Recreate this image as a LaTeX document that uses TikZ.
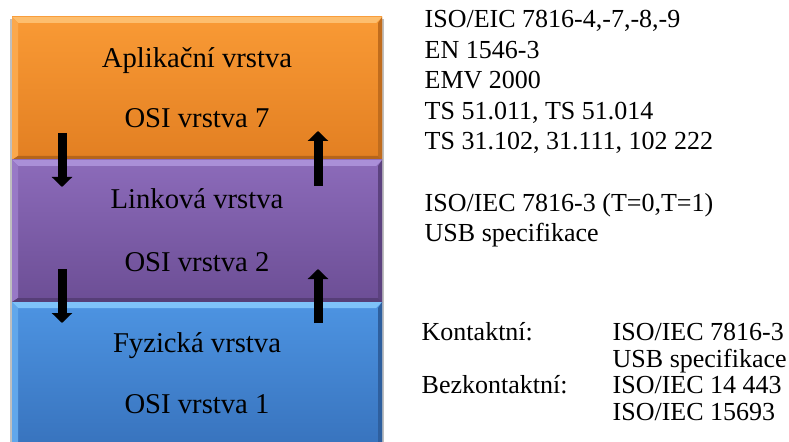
\documentclass[tikz,border=0pt]{standalone}
\usepackage{fontspec}
\setmainfont{Liberation Serif}
\usetikzlibrary{arrows.meta}
\definecolor{AppOrange}{HTML}{F99A35}
\definecolor{AppOrangeDark}{HTML}{E27F22}
\definecolor{AppOrangeLight}{HTML}{FDBE6E}
\definecolor{LinkPurple}{HTML}{8C6BBA}
\definecolor{LinkPurpleDark}{HTML}{6C4E95}
\definecolor{LinkPurpleLight}{HTML}{AA8FD8}
\definecolor{PhysBlue}{HTML}{4D94E2}
\definecolor{PhysBlueDark}{HTML}{3670BA}
\definecolor{PhysBlueLight}{HTML}{7EC2F8}

\begin{document}
\begin{tikzpicture}[x=0.75pt,y=-0.75pt,
    big/.style={font=\fontsize{21.5}{25}\selectfont, anchor=base},
    std/.style={font=\fontsize{19.5}{23}\selectfont, anchor=base west},
    flow/.style={line width=6.75pt, -{Triangle[width=15pt,length=7.5pt]}}]
    \clip (0,0) rectangle (789,442);

    % layers, with bevelled edges
    \fill[black!25] (10,19) rectangle (384,450);
    \foreach \ytop/\ybot/\col in {17/160/AppOrange, 160/302/LinkPurple, 302/460/PhysBlue} {
      \shade[top color=\col, bottom color=\col Dark] (12,\ytop) rectangle (382,\ybot);
      \fill[\col Light] (12,\ytop) -- (382,\ytop) -- (376,\ytop+6) -- (18,\ytop+6) -- cycle;
      \fill[\col Light!40!\col] (12,\ytop) -- (18,\ytop+6) -- (18,\ybot-4) -- (12,\ybot) -- cycle;
      \fill[\col Dark!85!black] (382,\ytop) -- (382,\ybot) -- (378,\ybot-4) -- (378,\ytop+6) -- cycle;
      \fill[\col Dark!80!black] (12,\ybot) -- (382,\ybot) -- (378,\ybot-4) -- (18,\ybot-4) -- cycle;
    }

    \node[big] (app) at (197,68) {Aplikační vrstva};
    \node[big] (app7) at (197,128) {OSI vrstva 7};
    \node[big] (link) at (197,209) {Linková vrstva};
    \node[big] (link2) at (197,272) {OSI vrstva 2};
    \node[big] (phys) at (197,352) {Fyzická vrstva};
    \node[big] (phys1) at (197,413) {OSI vrstva 1};

    % data going down and up the stack
    \coordinate (down1a) at (62,133);
    \coordinate (down1b) at (62,187);
    \coordinate (down2a) at (62,269);
    \coordinate (down2b) at (62,323);
    \coordinate (up1a) at (318,186);
    \coordinate (up1b) at (318,131);
    \coordinate (up2a) at (318,323);
    \coordinate (up2b) at (318,269);
    \draw[flow] (down1a) -- (down1b);
    \draw[flow] (down2a) -- (down2b);
    \draw[flow] (up1a) -- (up1b);
    \draw[flow] (up2a) -- (up2b);

    % norms for each layer
    \node[std] (iso7816) at (420,28) {ISO/EIC 7816-4,-7,-8,-9};
    \node[std] (en1546) at (420,59) {EN 1546-3};
    \node[std] (emv) at (420,89) {EMV 2000};
    \node[std] (ts51) at (420,120) {TS 51.011, TS 51.014};
    \node[std] (ts31) at (420,150) {TS 31.102, 31.111, 102 222};

    \node[std] (isot) at (420,211) {ISO/IEC 7816-3 (T=0,T=1)};
    \node[std] (usb) at (420,242) {USB specifikace};

    \node[std] (kont) at (417,340) {Kontaktní:};
    \node[std] (kontiso) at (608,340) {ISO/IEC 7816-3};
    \node[std] (kontusb) at (608,367) {USB specifikace};
    \node[std] (bezk) at (417,393) {Bezkontaktní:};
    \node[std] (bezkiso) at (608,393) {ISO/IEC 14 443};
    \node[std] (bezkiso2) at (608,420) {ISO/IEC 15693};
  \end{tikzpicture}
\end{document}
